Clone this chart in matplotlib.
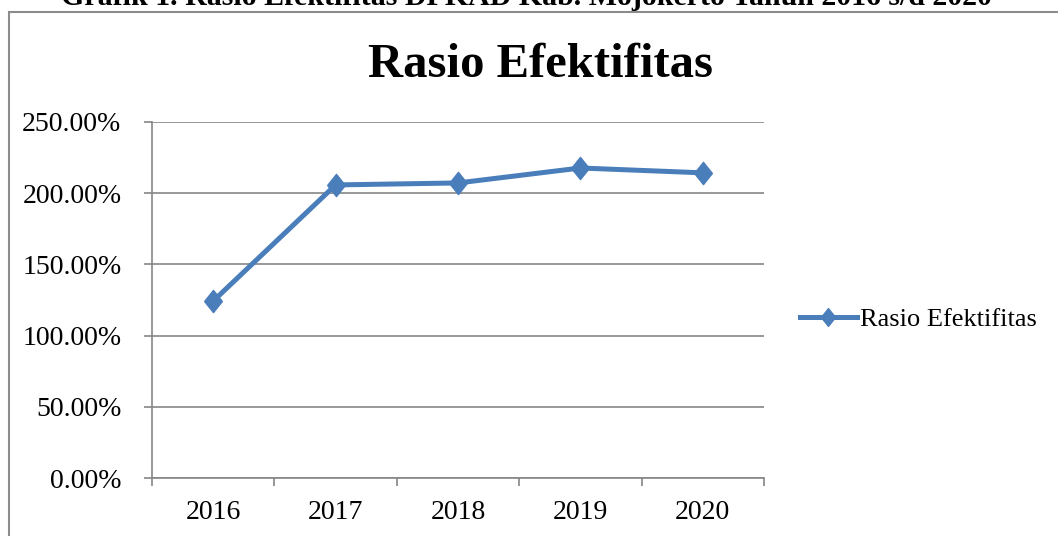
import matplotlib
matplotlib.use("Agg")
import matplotlib.pyplot as plt
from matplotlib.patches import Rectangle
from matplotlib.ticker import FuncFormatter, FixedLocator

years = ["2016", "2017", "2018", "2019", "2020"]
rasio = [124.3, 205.8, 207.2, 217.7, 214.3]
yticks = [0, 50, 100, 150, 200, 250]
series_name = "Rasio Efektifitas"
chart_title = "Rasio Efektifitas"
caption = "Grafik 1. Rasio Efektifitas DPKAD Kab. Mojokerto Tahun 2016 s/d 2020"

W, H = 1058, 536
fig = plt.figure(figsize=(W / 100, H / 100), dpi=100)
serif = ["Liberation Serif", "DejaVu Serif"]

# outer chart border
fig.patches.append(Rectangle((9 / W, -0.1), 1.2, (H - 12) / H + 0.1,
                             transform=fig.transFigure, fill=False,
                             edgecolor="#8c8c8c", lw=1.5))

# caption, cut off at the top edge as in the reference
fig.text(526 / W, 1 - 5 / H, caption, ha="center", va="baseline",
         fontsize=21.5, fontweight="bold", family=serif)

ax = fig.add_axes([152 / W, (H - 478) / H, 612 / W, 356 / H])
x = list(range(len(years)))
diamond = [(-0.8, 0), (0, 1), (0.8, 0), (0, -1), (-0.8, 0)]
line, = ax.plot(x, rasio, color="#4a7ebb", lw=3.6, marker=diamond, markersize=16,
                markeredgecolor="#4a7ebb", label=series_name, zorder=3,
                solid_joinstyle="round")
ax.set_xlim(-0.5, len(years) - 0.5)
ax.set_ylim(0, 250)
ax.set_yticks(yticks)
ax.yaxis.set_major_formatter(FuncFormatter(lambda v, p: f"{v:.2f}%"))
ax.set_xticks(x)
ax.set_xticklabels(years)
ax.xaxis.set_minor_locator(FixedLocator([i - 0.5 for i in range(len(years) + 1)]))
ax.tick_params(axis="x", which="major", length=0, pad=16, labelsize=20)
ax.tick_params(axis="x", which="minor", length=6, width=1.2, color="#868686", direction="out")
ax.tick_params(axis="y", which="major", length=6, width=1.2, color="#868686",
               direction="out", labelsize=20, pad=16)
for lab in ax.get_xticklabels() + ax.get_yticklabels():
    lab.set_family(serif)
ax.grid(axis="y", color="#868686", lw=1.2)
ax.set_axisbelow(True)
for s in ["top", "right"]:
    ax.spines[s].set_visible(False)
for s in ["left", "bottom"]:
    ax.spines[s].set_color("#868686")
    ax.spines[s].set_linewidth(1.2)

fig.text(541 / W, 1 - 77 / H, chart_title, ha="center", va="baseline",
         fontsize=35, fontweight="bold", family=serif)

leg = fig.legend(handles=[line], loc="center left", bbox_to_anchor=(800 / W, 1 - 319 / H),
                 frameon=False, prop={"family": serif, "size": 19},
                 handlelength=2.15, handletextpad=0.12, borderpad=0, borderaxespad=0,
                 markerscale=0.8)

fig.savefig("out.png", dpi=100)
